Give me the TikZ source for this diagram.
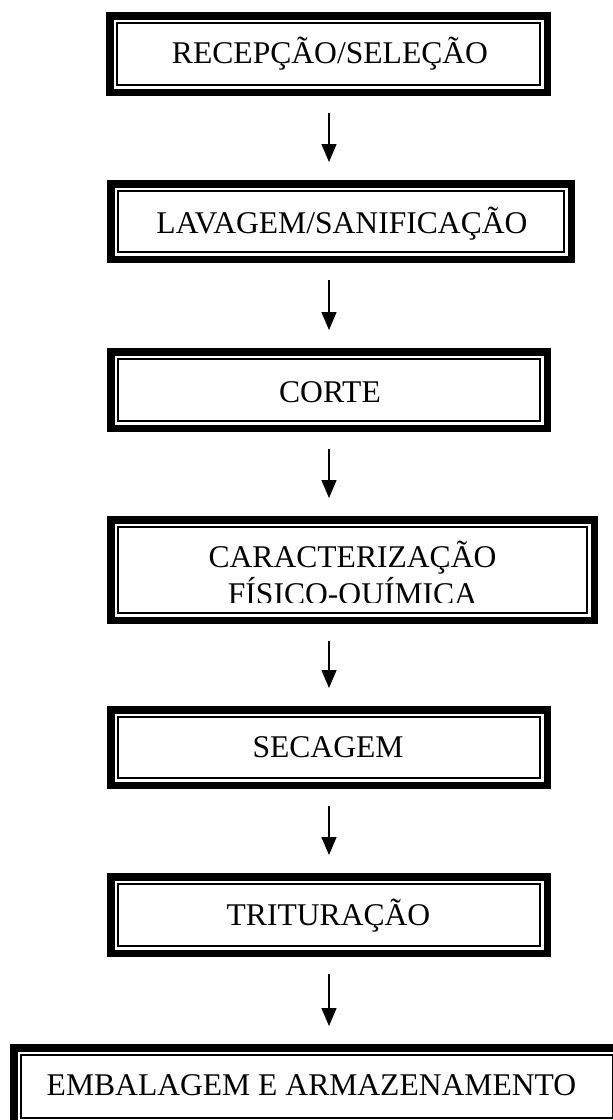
\documentclass[tikz,border=0pt]{standalone}
\usepackage{fontspec}
\setmainfont{Liberation Serif}
\usetikzlibrary{arrows.meta,calc}
\tikzset{
  stepbox/.style={rectangle, draw=black, line width=7.5pt, inner sep=0pt, outer sep=3.75pt,
    path picture={\draw[line width=2pt]
      ([shift={(7.25pt,-7.25pt)}]path picture bounding box.north west) rectangle
      ([shift={(-7.25pt,7.25pt)}]path picture bounding box.south east);}},
  lbl/.style={anchor=base, inner sep=0pt, font=\fontsize{31.6}{37}\selectfont, align=center},
  arr/.style={line width=1.5pt, -{Triangle[width=15pt,length=18pt]}}
}
\begin{document}
\begin{tikzpicture}[x=1pt,y=-1pt]
\useasboundingbox (0,0) rectangle (613,1120);
\clip (0,0) rectangle (613,1120);
\fill[white] (0,0) rectangle (613,1120);
\coordinate (ax) at (329,0);
% boxes (centres, path sizes)
\node[stepbox, minimum width=437.5pt, minimum height=76.5pt] (b1) at (328.5,54) {};
\node[stepbox, minimum width=460.5pt, minimum height=75.5pt] (b2) at (341,221.5) {};
\node[stepbox, minimum width=436.5pt, minimum height=76.5pt] (b3) at (329,390) {};
\node[stepbox, minimum width=483.5pt, minimum height=100.5pt] (b4) at (352.5,570) {};
\node[stepbox, minimum width=436.5pt, minimum height=75.5pt] (b5) at (329,747.5) {};
\node[stepbox, minimum width=436.5pt, minimum height=76.5pt] (b6) at (329,915) {};
\node[stepbox, minimum width=606.5pt, minimum height=77.5pt] (b7) at (317,1086.5) {};
% texts
\node[lbl] (t1) at (330,63) {RECEPÇÃO/SELEÇÃO};
\node[lbl] (t2) at (342,233) {LAVAGEM/SANIFICAÇÃO};
\node[lbl] (t3) at (330,402) {CORTE};
\begin{scope}
  \clip (120,525) rectangle (590,602);
  \node[lbl] (t4) at (352.5,604) {CARACTERIZAÇÃO\\FÍSICO-QUÍMICA};
\end{scope}
\node[lbl] (t5) at (328,757) {SECAGEM};
\node[lbl] (t6) at (328.5,925) {TRITURAÇÃO};
\node[lbl] (t7) at (311.5,1095.5) {EMBALAGEM E ARMAZENAMENTO};
% arrows
\foreach \a/\b in {b1/b2,b2/b3,b3/b4,b4/b5,b5/b6,b6/b7}{
  \draw[arr] ($(\a.south -| ax)+(0,17)$) -- ($(\b.north -| ax)+(0,-18)$);
}
\end{tikzpicture}
\end{document}
